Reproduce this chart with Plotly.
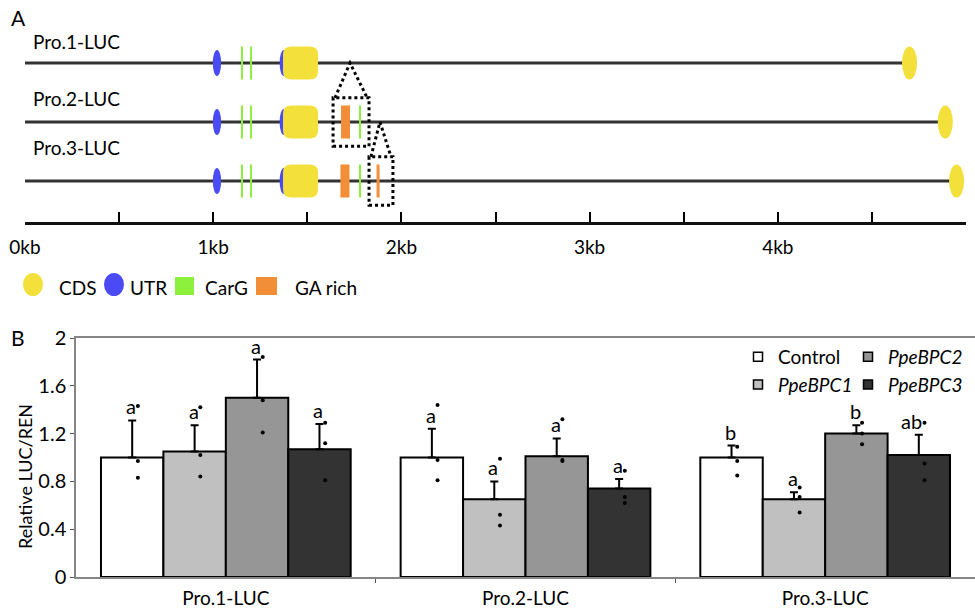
import plotly.graph_objects as go

W, H = 975, 611
FONT = "Lato"

# ---------------- Panel A data (positions in kb) ----------------
constructs = ["Pro.1-LUC", "Pro.2-LUC", "Pro.3-LUC"]
track_row = [2, 1, 0]
luc_kb = [4.70, 4.89, 4.95]                 # LUC CDS at the end of each construct
utr_kb = [1.02, 1.375]
carg_kb = [[1.153, 1.201], [1.153, 1.201, 1.780], [1.153, 1.201, 1.780]]
cds_kb = (1.371, 1.557)
ga_rich_kb = [[], [(1.679, 1.727)], [(1.676, 1.724), (1.868, 1.884)]]
# (construct, parent construct, start kb, end kb, apex kb)
zoom_regions = [(1, 0, 1.637, 1.828, 1.727), (2, 1, 1.828, 1.955, 1.886)]
scale_ticks_kb = [0, 0.5, 1, 1.5, 2, 2.5, 3, 3.5, 4, 4.5, 5]
scale_labels = ["0kb", "", "1kb", "", "2kb", "", "3kb", "", "4kb", "", ""]
legendA_names = ["CDS", "UTR", "CarG", "GA rich"]

# ---------------- Panel B data ----------------
groups = ["Pro.1-LUC", "Pro.2-LUC", "Pro.3-LUC"]
series = ["Control", "PpeBPC1", "PpeBPC2", "PpeBPC3"]
control_mean = [1.00, 1.00, 1.00]
control_err = [0.31, 0.24, 0.10]
bpc1_mean = [1.05, 0.65, 0.65]
bpc1_err = [0.22, 0.15, 0.06]
bpc2_mean = [1.50, 1.01, 1.20]
bpc2_err = [0.32, 0.15, 0.07]
bpc3_mean = [1.07, 0.74, 1.02]
bpc3_err = [0.21, 0.08, 0.17]
control_reps = [[1.43, 0.97, 0.83], [1.44, 0.98, 0.81], [1.09, 0.97, 0.85]]
bpc1_reps = [[1.42, 1.02, 0.84], [0.99, 0.52, 0.43], [0.75, 0.67, 0.54]]
bpc2_reps = [[1.84, 1.48, 1.21], [1.32, 0.98, 0.97], [1.29, 1.20, 1.11]]
bpc3_reps = [[1.29, 1.12, 0.81], [0.89, 0.67, 0.62], [1.29, 0.95, 0.81]]
control_sig = ["a", "a", "b"]
bpc1_sig = ["a", "a", "a"]
bpc2_sig = ["a", "a", "b"]
bpc3_sig = ["a", "a", "ab"]
y_ticks = [0, 0.4, 0.8, 1.2, 1.6, 2]
y_tick_labels = ["0", "0.4", "0.8", "1.2", "1.6", "2"]

colors = ["#FFFFFF", "#C0C0C0", "#969696", "#333333"]
CDS_C, UTR_C, CARG_C, GA_C = "#F3E03B", "#4A4BF5", "#8CF03C", "#F28E38"


def px(p):
    return p / W


def py(p):
    return 1 - p / H


fig = go.Figure()

# ---------------- Panel B bars ----------------
bargap = 0.1667
bw = (1 - bargap) / 4
xs = list(range(len(groups)))
all_mean = [control_mean, bpc1_mean, bpc2_mean, bpc3_mean]
all_err = [control_err, bpc1_err, bpc2_err, bpc3_err]
all_reps = [control_reps, bpc1_reps, bpc2_reps, bpc3_reps]
all_sig = [control_sig, bpc1_sig, bpc2_sig, bpc3_sig]
annotations = []
for j, name in enumerate(series):
    fig.add_trace(go.Bar(
        x=xs, y=all_mean[j], name=name, showlegend=False,
        marker=dict(color=colors[j], line=dict(color="black", width=2)),
        error_y=dict(type="data", array=all_err[j], arrayminus=[0] * 3,
                     symmetric=False, color="black", thickness=2, width=4),
        xaxis="x", yaxis="y"))
    off = (j - 1.5) * bw
    dx, dy = [], []
    for i in xs:
        for v in all_reps[j][i]:
            dx.append(i + off + 0.019)
            dy.append(v)
        txt = all_sig[j][i]
        annotations.append(dict(x=i + off, y=all_mean[j][i] + all_err[j][i],
                                xref="x", yref="y", text=txt,
                                showarrow=False, yanchor="bottom",
                                xshift=-1 - 6 * (len(txt) - 1),
                                font=dict(size=20, color="black")))
    fig.add_trace(go.Scatter(x=dx, y=dy, mode="markers", showlegend=False,
                             marker=dict(color="black", size=4),
                             xaxis="x", yaxis="y", hoverinfo="skip"))

# legend entries
for j, name in enumerate(series):
    label = name if j == 0 else f"<i>{name}</i>"
    fig.add_trace(go.Scatter(
        x=[None], y=[None], mode="markers", name=label,
        marker=dict(symbol="square", size=9, color=colors[j],
                    line=dict(color="black", width=1.5)),
        legend="legend" if j in (0, 1) else "legend2",
        xaxis="x", yaxis="y"))

# ---------------- Panel A shapes ----------------
shapes = []
ROW_H = 0.28   # half height of features (rows)
label_y = [41, 98, 148]
for k, name in enumerate(constructs):
    r = track_row[k]
    shapes.append(dict(type="line", xref="x2", yref="y2", x0=0, x1=luc_kb[k] - 0.035,
                       y0=r, y1=r, line=dict(color="#333333", width=3)))
    # UTRs
    for u in utr_kb:
        shapes.append(dict(type="circle", xref="x2", yref="y2",
                           x0=u - 0.022, x1=u + 0.022, y0=r - 0.22, y1=r + 0.22,
                           fillcolor=UTR_C, line=dict(width=0)))
    # CarG
    for c in carg_kb[k]:
        shapes.append(dict(type="line", xref="x2", yref="y2", x0=c, x1=c,
                           y0=r - ROW_H, y1=r + ROW_H,
                           line=dict(color=CARG_C, width=2)))
    # CDS rounded rectangle
    x0, x1 = cds_kb
    y0, y1 = r - ROW_H, r + ROW_H
    rx, ry = 0.045, 0.13
    path = (f"M {x0+rx},{y0} L {x1-rx},{y0} Q {x1},{y0} {x1},{y0+ry} "
            f"L {x1},{y1-ry} Q {x1},{y1} {x1-rx},{y1} L {x0+rx},{y1} "
            f"Q {x0},{y1} {x0},{y1-ry} L {x0},{y0+ry} Q {x0},{y0} {x0+rx},{y0} Z")
    shapes.append(dict(type="path", xref="x2", yref="y2", path=path,
                       fillcolor=CDS_C, line=dict(width=0)))
    # GA rich
    for g0, g1 in ga_rich_kb[k]:
        shapes.append(dict(type="rect", xref="x2", yref="y2", x0=g0, x1=g1,
                           y0=r - ROW_H, y1=r + ROW_H,
                           fillcolor=GA_C, line=dict(width=0)))
    # LUC
    shapes.append(dict(type="circle", xref="x2", yref="y2",
                       x0=luc_kb[k] - 0.04, x1=luc_kb[k] + 0.04,
                       y0=r - ROW_H, y1=r + ROW_H,
                       fillcolor=CDS_C, line=dict(width=0)))
    annotations.append(dict(x=px(31), y=py(label_y[k]),
                            xref="paper", yref="paper", xanchor="left", yanchor="middle",
                            text=name, showarrow=False, font=dict(size=19, color="black")))

for (k, p, s, e, apex) in zoom_regions:
    r = track_row[k]
    rp = track_row[p]
    bh = 0.41
    shapes.append(dict(type="rect", xref="x2", yref="y2", x0=s, x1=e,
                       y0=r - bh, y1=r + bh,
                       line=dict(color="black", width=3, dash="dot")))
    shapes.append(dict(type="path", xref="x2", yref="y2",
                       path=f"M {s+0.01},{r+bh} L {apex},{rp} L {e-0.01},{r+bh}",
                       line=dict(color="black", width=3, dash="dot")))

# Panel A legend
legA = [("circle", CDS_C, 23, 43, 273, 296, 57),
        ("circle", UTR_C, 104, 124, 273, 296, 128),
        ("rect", CARG_C, 175, 194, 277, 295, 203),
        ("rect", GA_C, 256, 277, 277, 295, 293)]
for (shp, col, a0, a1, b0, b1, tx), nm in zip(legA, legendA_names):
    shapes.append(dict(type=shp, xref="paper", yref="paper", x0=px(a0), x1=px(a1),
                       y0=py(b1), y1=py(b0), fillcolor=col, line=dict(width=0)))
    annotations.append(dict(x=px(tx), y=py(288), xref="paper", yref="paper",
                            xanchor="left", yanchor="middle", text=nm, showarrow=False,
                            font=dict(size=19, color="black")))

# Panel labels and y title
annotations += [
    dict(x=px(9), y=py(18), xref="paper", yref="paper", xanchor="left", yanchor="middle",
         text="A", showarrow=False, font=dict(size=21, color="black")),
    dict(x=px(9), y=py(337), xref="paper", yref="paper", xanchor="left", yanchor="middle",
         text="B", showarrow=False, font=dict(size=21, color="black")),
    dict(x=px(25), y=py(477), xref="paper", yref="paper", xanchor="center", yanchor="middle",
         text="Relative LUC/REN", textangle=-90, showarrow=False,
         font=dict(size=18, color="black")),
]

fig.update_layout(
    width=W, height=H, margin=dict(l=0, r=0, t=0, b=0, autoexpand=False),
    paper_bgcolor="white", plot_bgcolor="white",
    font=dict(family=FONT, color="black"),
    barmode="group", bargap=bargap, bargroupgap=0,
    xaxis=dict(domain=[px(76), 1], range=[-0.5, 2.5], tickvals=xs, ticktext=groups,
               ticks="", showline=True, linecolor="#868686", linewidth=1.5, mirror=True,
               showgrid=False, zeroline=False, tickfont=dict(size=19), anchor="y",
               automargin=False, ticklabelstandoff=3,
               minor=dict(tickvals=[0.5, 1.5], ticks="outside", ticklen=4,
                          tickcolor="#555555", tickwidth=1)),
    yaxis=dict(domain=[py(577), py(338)], range=[0, 2], tickvals=y_ticks,
               ticktext=y_tick_labels, ticks="outside", ticklen=4, tickcolor="#555555",
               showline=True, linecolor="#868686", linewidth=1.5, showgrid=False,
               zeroline=False, tickfont=dict(size=20), anchor="x", automargin=False),
    xaxis2=dict(domain=[px(25), px(966)], range=[0, 5], anchor="y2",
                tickvals=scale_ticks_kb, ticktext=scale_labels, ticks="inside",
                ticklen=10, tickwidth=1.5, tickcolor="black", showline=True,
                linecolor="#111111", linewidth=3, showgrid=False, zeroline=False,
                tickfont=dict(size=19), ticklabelstandoff=6, automargin=False),
    yaxis2=dict(domain=[py(222), 1], range=[-0.695, 3.068], anchor="x2", visible=False,
                automargin=False),
    legend=dict(x=px(738), y=py(338), xanchor="left", yanchor="top",
                bgcolor="rgba(0,0,0,0)", font=dict(size=19), tracegroupgap=0),
    legend2=dict(x=px(848), y=py(338), xanchor="left", yanchor="top",
                 bgcolor="rgba(0,0,0,0)", font=dict(size=19), tracegroupgap=0),
    shapes=shapes, annotations=annotations,
)

fig.write_html("out.html")
